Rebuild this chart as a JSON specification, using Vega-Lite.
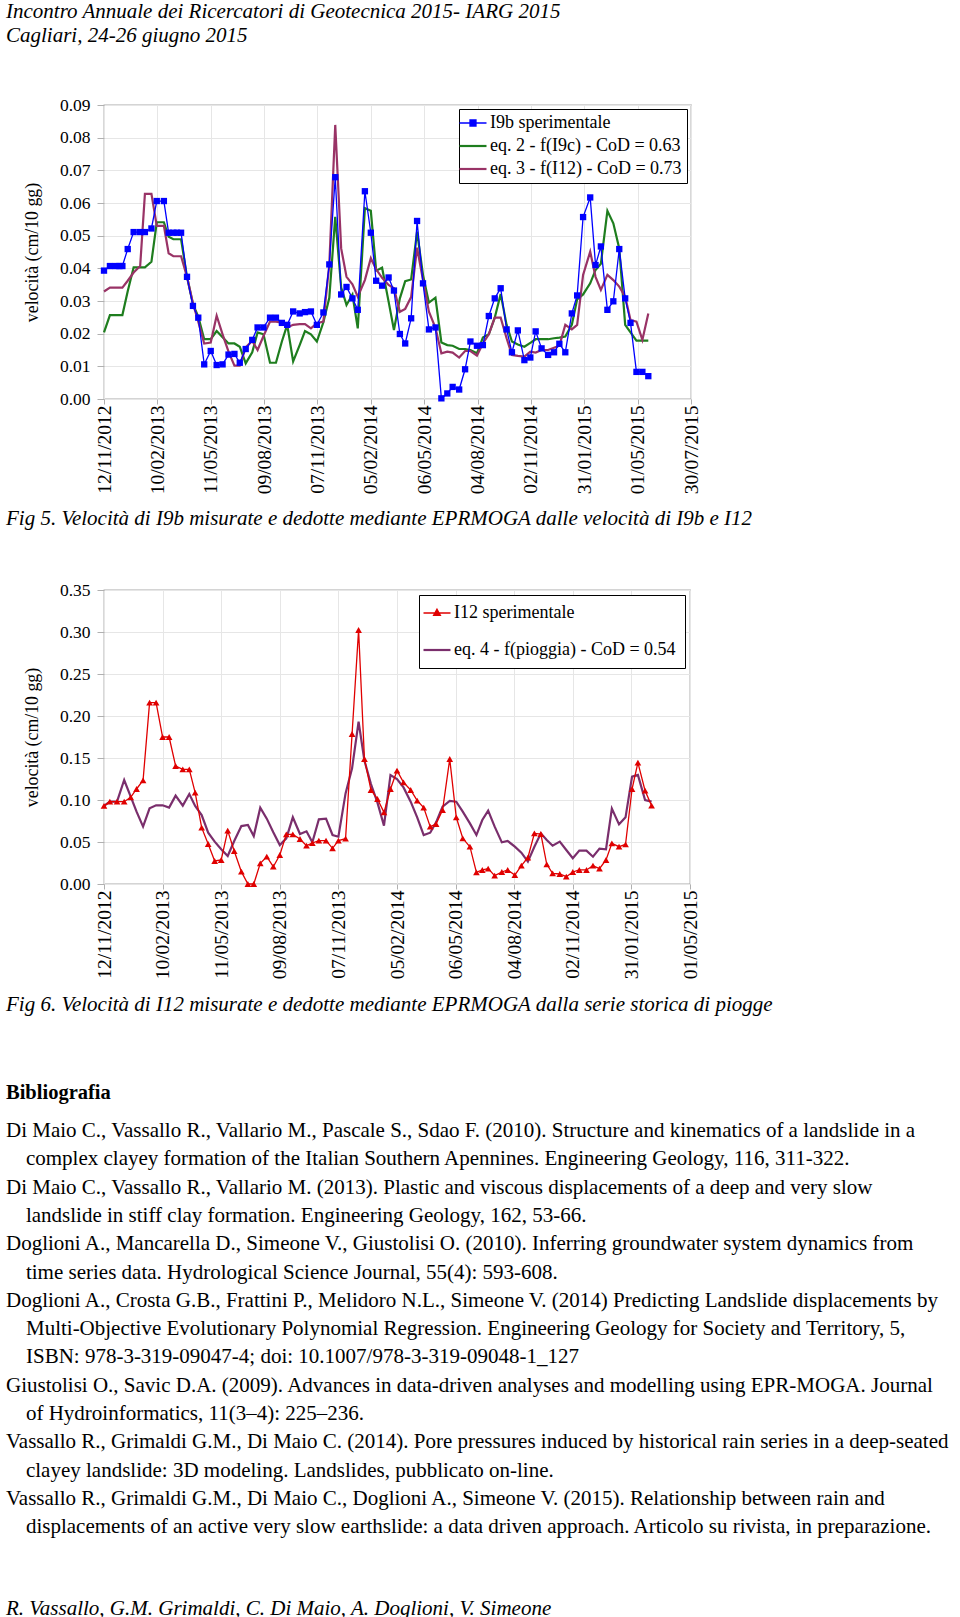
{
  "$schema": "https://vega.github.io/schema/vega-lite/v6.json",
  "padding": {"left": 5, "top": 0, "right": 0, "bottom": 0},
  "background": "white",
  "title": {
    "text": ["Incontro Annuale dei Ricercatori di Geotecnica 2015- IARG 2015", "Cagliari, 24-26 giugno 2015"],
    "anchor": "start", "frame": "group", "dx": -98, "fontSize": 21, "fontStyle": "italic", "lineHeight": 24.5, "offset": 49
  },
  "datasets": {
    "fig5": [
      {"date": "2012-11-12", "I9b": 0.0393, "eq2": 0.0204, "eq3": 0.0329},
      {"date": "2012-11-22", "I9b": 0.0407, "eq2": 0.0257, "eq3": 0.0341},
      {"date": "2012-12-02", "I9b": 0.0407, "eq2": 0.0257, "eq3": 0.0341},
      {"date": "2012-12-08", "I9b": 0.0407, "eq2": 0.0257, "eq3": 0.0341},
      {"date": "2012-12-13", "I9b": 0.0407, "eq2": 0.0257, "eq3": 0.0341},
      {"date": "2012-12-22", "I9b": 0.0459, "eq2": 0.0330, "eq3": 0.0362},
      {"date": "2013-01-01", "I9b": 0.0511, "eq2": 0.0403, "eq3": 0.0387},
      {"date": "2013-01-12", "I9b": 0.0511, "eq2": 0.0403, "eq3": 0.0407},
      {"date": "2013-01-20", "I9b": 0.0511, "eq2": 0.0403, "eq3": 0.0628},
      {"date": "2013-01-31", "I9b": 0.0522, "eq2": 0.0420, "eq3": 0.0628},
      {"date": "2013-02-09", "I9b": 0.0606, "eq2": 0.0541, "eq3": 0.0530},
      {"date": "2013-02-21", "I9b": 0.0606, "eq2": 0.0541, "eq3": 0.0530},
      {"date": "2013-03-01", "I9b": 0.0509, "eq2": 0.0497, "eq3": 0.0446},
      {"date": "2013-03-09", "I9b": 0.0509, "eq2": 0.0489, "eq3": 0.0437},
      {"date": "2013-03-15", "I9b": 0.0509, "eq2": 0.0489, "eq3": 0.0437},
      {"date": "2013-03-22", "I9b": 0.0509, "eq2": 0.0489, "eq3": 0.0437},
      {"date": "2013-04-01", "I9b": 0.0374, "eq2": 0.0374, "eq3": 0.0374},
      {"date": "2013-04-11", "I9b": 0.0285, "eq2": 0.0290, "eq3": 0.0293},
      {"date": "2013-04-20", "I9b": 0.0249, "eq2": 0.0252, "eq3": 0.0237},
      {"date": "2013-04-30", "I9b": 0.0106, "eq2": 0.0183, "eq3": 0.0170},
      {"date": "2013-05-11", "I9b": 0.0147, "eq2": 0.0183, "eq3": 0.0173},
      {"date": "2013-05-21", "I9b": 0.0104, "eq2": 0.0208, "eq3": 0.0255},
      {"date": "2013-05-31", "I9b": 0.0106, "eq2": 0.0189, "eq3": 0.0198},
      {"date": "2013-06-10", "I9b": 0.0136, "eq2": 0.0170, "eq3": 0.0145},
      {"date": "2013-06-20", "I9b": 0.0138, "eq2": 0.0170, "eq3": 0.0102},
      {"date": "2013-06-29", "I9b": 0.0111, "eq2": 0.0160, "eq3": 0.0102},
      {"date": "2013-07-09", "I9b": 0.0153, "eq2": 0.0109, "eq3": 0.0158},
      {"date": "2013-07-20", "I9b": 0.0181, "eq2": 0.0143, "eq3": 0.0178},
      {"date": "2013-07-29", "I9b": 0.0219, "eq2": 0.0204, "eq3": 0.0150},
      {"date": "2013-08-08", "I9b": 0.0219, "eq2": 0.0198, "eq3": 0.0193},
      {"date": "2013-08-19", "I9b": 0.0249, "eq2": 0.0111, "eq3": 0.0237},
      {"date": "2013-08-29", "I9b": 0.0249, "eq2": 0.0111, "eq3": 0.0237},
      {"date": "2013-09-08", "I9b": 0.0233, "eq2": 0.0176, "eq3": 0.0234},
      {"date": "2013-09-17", "I9b": 0.0227, "eq2": 0.0227, "eq3": 0.0219},
      {"date": "2013-09-27", "I9b": 0.0268, "eq2": 0.0115, "eq3": 0.0227},
      {"date": "2013-10-08", "I9b": 0.0262, "eq2": 0.0165, "eq3": 0.0229},
      {"date": "2013-10-17", "I9b": 0.0266, "eq2": 0.0208, "eq3": 0.0229},
      {"date": "2013-10-27", "I9b": 0.0268, "eq2": 0.0198, "eq3": 0.0216},
      {"date": "2013-11-06", "I9b": 0.0227, "eq2": 0.0176, "eq3": 0.0232},
      {"date": "2013-11-17", "I9b": 0.0265, "eq2": 0.0235, "eq3": 0.0237},
      {"date": "2013-11-27", "I9b": 0.0412, "eq2": 0.0310, "eq3": 0.0412},
      {"date": "2013-12-07", "I9b": 0.0679, "eq2": 0.0558, "eq3": 0.0839},
      {"date": "2013-12-17", "I9b": 0.0320, "eq2": 0.0341, "eq3": 0.0461},
      {"date": "2013-12-26", "I9b": 0.0343, "eq2": 0.0288, "eq3": 0.0374},
      {"date": "2014-01-05", "I9b": 0.0308, "eq2": 0.0320, "eq3": 0.0351},
      {"date": "2014-01-14", "I9b": 0.0273, "eq2": 0.0216, "eq3": 0.0313},
      {"date": "2014-01-26", "I9b": 0.0636, "eq2": 0.0584, "eq3": 0.0364},
      {"date": "2014-02-05", "I9b": 0.0509, "eq2": 0.0576, "eq3": 0.0431},
      {"date": "2014-02-14", "I9b": 0.0362, "eq2": 0.0393, "eq3": 0.0397},
      {"date": "2014-02-24", "I9b": 0.0347, "eq2": 0.0402, "eq3": 0.0371},
      {"date": "2014-03-07", "I9b": 0.0372, "eq2": 0.0298, "eq3": 0.0349},
      {"date": "2014-03-16", "I9b": 0.0332, "eq2": 0.0211, "eq3": 0.0339},
      {"date": "2014-03-26", "I9b": 0.0199, "eq2": 0.0308, "eq3": 0.0267},
      {"date": "2014-04-04", "I9b": 0.0170, "eq2": 0.0361, "eq3": 0.0276},
      {"date": "2014-04-14", "I9b": 0.0247, "eq2": 0.0366, "eq3": 0.0312},
      {"date": "2014-04-24", "I9b": 0.0545, "eq2": 0.0512, "eq3": 0.0463},
      {"date": "2014-05-04", "I9b": 0.0354, "eq2": 0.0380, "eq3": 0.0364},
      {"date": "2014-05-14", "I9b": 0.0213, "eq2": 0.0295, "eq3": 0.0267},
      {"date": "2014-05-25", "I9b": 0.0219, "eq2": 0.0310, "eq3": 0.0218},
      {"date": "2014-06-04", "I9b": 0.0002, "eq2": 0.0173, "eq3": 0.0140},
      {"date": "2014-06-14", "I9b": 0.0017, "eq2": 0.0165, "eq3": 0.0145},
      {"date": "2014-06-23", "I9b": 0.0037, "eq2": 0.0163, "eq3": 0.0142},
      {"date": "2014-07-04", "I9b": 0.0029, "eq2": 0.0153, "eq3": 0.0127},
      {"date": "2014-07-14", "I9b": 0.0091, "eq2": 0.0153, "eq3": 0.0147},
      {"date": "2014-07-23", "I9b": 0.0176, "eq2": 0.0150, "eq3": 0.0147},
      {"date": "2014-08-03", "I9b": 0.0163, "eq2": 0.0140, "eq3": 0.0133},
      {"date": "2014-08-13", "I9b": 0.0165, "eq2": 0.0188, "eq3": 0.0170},
      {"date": "2014-08-23", "I9b": 0.0254, "eq2": 0.0198, "eq3": 0.0198},
      {"date": "2014-09-02", "I9b": 0.0308, "eq2": 0.0249, "eq3": 0.0249},
      {"date": "2014-09-12", "I9b": 0.0339, "eq2": 0.0321, "eq3": 0.0249},
      {"date": "2014-09-22", "I9b": 0.0213, "eq2": 0.0227, "eq3": 0.0186},
      {"date": "2014-10-01", "I9b": 0.0143, "eq2": 0.0176, "eq3": 0.0135},
      {"date": "2014-10-11", "I9b": 0.0210, "eq2": 0.0167, "eq3": 0.0132},
      {"date": "2014-10-22", "I9b": 0.0119, "eq2": 0.0160, "eq3": 0.0130},
      {"date": "2014-11-01", "I9b": 0.0127, "eq2": 0.0172, "eq3": 0.0145},
      {"date": "2014-11-10", "I9b": 0.0207, "eq2": 0.0183, "eq3": 0.0142},
      {"date": "2014-11-20", "I9b": 0.0155, "eq2": 0.0183, "eq3": 0.0150},
      {"date": "2014-12-01", "I9b": 0.0135, "eq2": 0.0183, "eq3": 0.0150},
      {"date": "2014-12-11", "I9b": 0.0143, "eq2": 0.0186, "eq3": 0.0157},
      {"date": "2014-12-20", "I9b": 0.0169, "eq2": 0.0188, "eq3": 0.0163},
      {"date": "2014-12-30", "I9b": 0.0143, "eq2": 0.0191, "eq3": 0.0227},
      {"date": "2015-01-10", "I9b": 0.0262, "eq2": 0.0227, "eq3": 0.0213},
      {"date": "2015-01-19", "I9b": 0.0317, "eq2": 0.0305, "eq3": 0.0227},
      {"date": "2015-01-29", "I9b": 0.0557, "eq2": 0.0320, "eq3": 0.0380},
      {"date": "2015-02-10", "I9b": 0.0617, "eq2": 0.0354, "eq3": 0.0451},
      {"date": "2015-02-19", "I9b": 0.0410, "eq2": 0.0395, "eq3": 0.0374},
      {"date": "2015-02-28", "I9b": 0.0467, "eq2": 0.0414, "eq3": 0.0334},
      {"date": "2015-03-11", "I9b": 0.0273, "eq2": 0.0576, "eq3": 0.0380},
      {"date": "2015-03-21", "I9b": 0.0299, "eq2": 0.0538, "eq3": 0.0364},
      {"date": "2015-03-31", "I9b": 0.0459, "eq2": 0.0461, "eq3": 0.0344},
      {"date": "2015-04-10", "I9b": 0.0308, "eq2": 0.0227, "eq3": 0.0313},
      {"date": "2015-04-19", "I9b": 0.0233, "eq2": 0.0204, "eq3": 0.0242},
      {"date": "2015-04-29", "I9b": 0.0083, "eq2": 0.0179, "eq3": 0.0237},
      {"date": "2015-05-09", "I9b": 0.0083, "eq2": 0.0179, "eq3": 0.0181},
      {"date": "2015-05-19", "I9b": 0.0070, "eq2": 0.0179, "eq3": 0.0262}
    ],
    "fig6": [
      {"date": "2012-11-12", "I12": 0.0929, "eq4": 0.0929},
      {"date": "2012-11-21", "I12": 0.0980, "eq4": 0.0980},
      {"date": "2012-12-02", "I12": 0.0980, "eq4": 0.0980},
      {"date": "2012-12-13", "I12": 0.0980, "eq4": 0.1238},
      {"date": "2012-12-23", "I12": 0.1032, "eq4": 0.1040},
      {"date": "2013-01-01", "I12": 0.1131, "eq4": 0.0861},
      {"date": "2013-01-11", "I12": 0.1234, "eq4": 0.0683},
      {"date": "2013-01-21", "I12": 0.2159, "eq4": 0.0901},
      {"date": "2013-01-31", "I12": 0.2159, "eq4": 0.0937},
      {"date": "2013-02-10", "I12": 0.1750, "eq4": 0.0937},
      {"date": "2013-02-20", "I12": 0.1750, "eq4": 0.0909},
      {"date": "2013-03-02", "I12": 0.1405, "eq4": 0.1052},
      {"date": "2013-03-13", "I12": 0.1365, "eq4": 0.0933},
      {"date": "2013-03-23", "I12": 0.1365, "eq4": 0.1071},
      {"date": "2013-04-01", "I12": 0.1087, "eq4": 0.0929},
      {"date": "2013-04-11", "I12": 0.0671, "eq4": 0.0821},
      {"date": "2013-04-21", "I12": 0.0476, "eq4": 0.0611},
      {"date": "2013-05-01", "I12": 0.0274, "eq4": 0.0504},
      {"date": "2013-05-11", "I12": 0.0286, "eq4": 0.0413},
      {"date": "2013-05-21", "I12": 0.0635, "eq4": 0.0333},
      {"date": "2013-05-31", "I12": 0.0393, "eq4": 0.0512},
      {"date": "2013-06-11", "I12": 0.0147, "eq4": 0.0690},
      {"date": "2013-06-21", "I12": 0.0000, "eq4": 0.0702},
      {"date": "2013-06-30", "I12": 0.0000, "eq4": 0.0571},
      {"date": "2013-07-10", "I12": 0.0246, "eq4": 0.0909},
      {"date": "2013-07-20", "I12": 0.0325, "eq4": 0.0778},
      {"date": "2013-07-30", "I12": 0.0206, "eq4": 0.0615},
      {"date": "2013-08-09", "I12": 0.0345, "eq4": 0.0464},
      {"date": "2013-08-19", "I12": 0.0591, "eq4": 0.0544},
      {"date": "2013-08-29", "I12": 0.0591, "eq4": 0.0794},
      {"date": "2013-09-09", "I12": 0.0536, "eq4": 0.0595},
      {"date": "2013-09-19", "I12": 0.0456, "eq4": 0.0627},
      {"date": "2013-09-28", "I12": 0.0488, "eq4": 0.0496},
      {"date": "2013-10-08", "I12": 0.0516, "eq4": 0.0770},
      {"date": "2013-10-19", "I12": 0.0516, "eq4": 0.0778},
      {"date": "2013-10-29", "I12": 0.0425, "eq4": 0.0583},
      {"date": "2013-11-07", "I12": 0.0516, "eq4": 0.0563},
      {"date": "2013-11-18", "I12": 0.0540, "eq4": 0.1079},
      {"date": "2013-11-28", "I12": 0.1786, "eq4": 0.1377},
      {"date": "2013-12-08", "I12": 0.3024, "eq4": 0.1933},
      {"date": "2013-12-17", "I12": 0.1488, "eq4": 0.1468},
      {"date": "2013-12-27", "I12": 0.1119, "eq4": 0.1190},
      {"date": "2014-01-06", "I12": 0.1012, "eq4": 0.0968},
      {"date": "2014-01-16", "I12": 0.0853, "eq4": 0.0694},
      {"date": "2014-01-26", "I12": 0.1131, "eq4": 0.1298},
      {"date": "2014-02-05", "I12": 0.1349, "eq4": 0.1250},
      {"date": "2014-02-15", "I12": 0.1210, "eq4": 0.1150},
      {"date": "2014-02-26", "I12": 0.1119, "eq4": 0.0980},
      {"date": "2014-03-08", "I12": 0.0992, "eq4": 0.0794},
      {"date": "2014-03-18", "I12": 0.0909, "eq4": 0.0583},
      {"date": "2014-03-28", "I12": 0.0683, "eq4": 0.0611},
      {"date": "2014-04-06", "I12": 0.0714, "eq4": 0.0734},
      {"date": "2014-04-16", "I12": 0.0881, "eq4": 0.0921},
      {"date": "2014-04-27", "I12": 0.1488, "eq4": 0.0988},
      {"date": "2014-05-07", "I12": 0.0794, "eq4": 0.0980},
      {"date": "2014-05-17", "I12": 0.0544, "eq4": 0.0861},
      {"date": "2014-05-28", "I12": 0.0444, "eq4": 0.0722},
      {"date": "2014-06-07", "I12": 0.0139, "eq4": 0.0583},
      {"date": "2014-06-16", "I12": 0.0167, "eq4": 0.0762},
      {"date": "2014-06-25", "I12": 0.0183, "eq4": 0.0873},
      {"date": "2014-07-05", "I12": 0.0099, "eq4": 0.0683},
      {"date": "2014-07-16", "I12": 0.0143, "eq4": 0.0496},
      {"date": "2014-07-25", "I12": 0.0167, "eq4": 0.0512},
      {"date": "2014-08-05", "I12": 0.0107, "eq4": 0.0444},
      {"date": "2014-08-15", "I12": 0.0218, "eq4": 0.0373},
      {"date": "2014-08-25", "I12": 0.0313, "eq4": 0.0266},
      {"date": "2014-09-04", "I12": 0.0603, "eq4": 0.0444},
      {"date": "2014-09-14", "I12": 0.0595, "eq4": 0.0603},
      {"date": "2014-09-23", "I12": 0.0234, "eq4": 0.0524},
      {"date": "2014-10-02", "I12": 0.0127, "eq4": 0.0456},
      {"date": "2014-10-13", "I12": 0.0119, "eq4": 0.0504},
      {"date": "2014-10-23", "I12": 0.0087, "eq4": 0.0405},
      {"date": "2014-11-02", "I12": 0.0143, "eq4": 0.0306},
      {"date": "2014-11-12", "I12": 0.0167, "eq4": 0.0397},
      {"date": "2014-11-23", "I12": 0.0167, "eq4": 0.0397},
      {"date": "2014-12-03", "I12": 0.0218, "eq4": 0.0325},
      {"date": "2014-12-13", "I12": 0.0183, "eq4": 0.0421},
      {"date": "2014-12-23", "I12": 0.0286, "eq4": 0.0413},
      {"date": "2015-01-01", "I12": 0.0484, "eq4": 0.0897},
      {"date": "2015-01-12", "I12": 0.0444, "eq4": 0.0710},
      {"date": "2015-01-22", "I12": 0.0472, "eq4": 0.0794},
      {"date": "2015-02-01", "I12": 0.1131, "eq4": 0.1278},
      {"date": "2015-02-10", "I12": 0.1444, "eq4": 0.1298},
      {"date": "2015-02-21", "I12": 0.1111, "eq4": 0.1000},
      {"date": "2015-03-03", "I12": 0.0933, "eq4": 0.0980}
    ]
  },
  "spacing": 50,
  "resolve": {"scale": {"color": "independent"}, "legend": {"color": "independent"}},
  "vconcat": [
    {
      "width": 587,
      "height": 294,
      "data": {"name": "fig5"},
      "transform": [{"fold": ["I9b", "eq2", "eq3"], "as": ["serie", "v"]}],
      "title": {
        "text": "Fig 5. Velocità di I9b misurate e dedotte mediante EPRMOGA dalle velocità di I9b e I12",
        "orient": "bottom", "anchor": "start", "frame": "group", "dx": -98, "fontSize": 21, "fontStyle": "italic", "offset": 14
      },
      "encoding": {
        "x": {
          "field": "date", "type": "temporal",
          "scale": {"type": "utc", "nice": false, "domain": [{"year": 2012, "month": 11, "date": 12, "utc": true}, {"year": 2015, "month": 7, "date": 30, "utc": true}]},
          "axis": {
            "title": null, "labelAngle": -90, "labelFontSize": 19.5, "tickSize": 5, "labelPadding": 1, "labelOverlap": false, "labelFlush": false, "labelBound": false,
            "labelExpr": "utcFormat(datum.value, '%d/%m/%Y')",
            "values": [
              {"year": 2012, "month": 11, "date": 12, "utc": true},
              {"year": 2013, "month": 2, "date": 10, "utc": true},
              {"year": 2013, "month": 5, "date": 11, "utc": true},
              {"year": 2013, "month": 8, "date": 9, "utc": true},
              {"year": 2013, "month": 11, "date": 7, "utc": true},
              {"year": 2014, "month": 2, "date": 5, "utc": true},
              {"year": 2014, "month": 5, "date": 6, "utc": true},
              {"year": 2014, "month": 8, "date": 4, "utc": true},
              {"year": 2014, "month": 11, "date": 2, "utc": true},
              {"year": 2015, "month": 1, "date": 31, "utc": true},
              {"year": 2015, "month": 5, "date": 1, "utc": true},
              {"year": 2015, "month": 7, "date": 30, "utc": true}
            ]
          }
        },
        "y": {
          "field": "v", "type": "quantitative",
          "scale": {"domain": [0, 0.09], "nice": false},
          "axis": {"title": "velocità (cm/10 gg)", "format": ".2f", "values": [0, 0.01, 0.02, 0.03, 0.04, 0.05, 0.06, 0.07, 0.08, 0.09], "tickSize": 7, "labelPadding": 7, "titlePadding": 18}
        },
        "color": {
          "field": "serie", "type": "nominal",
          "scale": {"domain": ["I9b", "eq2", "eq3"], "range": ["#0000ff", "#1e7d1e", "#993366"]},
          "legend": {
            "title": null, "orient": "top-right", "offset": 4, "padding": 5, "strokeColor": "#000000", "fillColor": "#ffffff", "cornerRadius": 0,
            "symbolSize": 400, "symbolOpacity": 1, "labelOffset": 8, "rowPadding": 5,
            "symbolType": {"expr": "datum.value === 'I9b' ? 'M-1.35,0H1.35M-0.3,-0.3H0.3V0.3H-0.3Z' : 'M-1.35,0H1.35'"},
            "symbolFillColor": {"expr": "datum.value === 'I9b' ? '#0000ff' : 'transparent'"},
            "symbolStrokeColor": {"expr": "datum.value === 'I9b' ? '#0000ff' : datum.value === 'eq2' ? '#1e7d1e' : '#993366'"},
            "symbolStrokeWidth": {"expr": "datum.value === 'I9b' ? 1.3 : 2.2"},
            "labelExpr": "{'I9b': 'I9b sperimentale', 'eq2': 'eq. 2 - f(I9c) - CoD = 0.63', 'eq3': 'eq. 3 - f(I12) - CoD = 0.73'}[datum.label]"
          }
        }
      },
      "layer": [
        {"transform": [{"filter": "datum.serie !== 'I9b'"}], "mark": {"type": "line", "strokeWidth": 2.2}},
        {"transform": [{"filter": "datum.serie === 'I9b'"}], "mark": {"type": "line", "strokeWidth": 1.3}},
        {"transform": [{"filter": "datum.serie === 'I9b'"}], "mark": {"type": "point", "shape": "square", "filled": true, "size": 40, "opacity": 1}}
      ]
    },
    {
      "width": 586,
      "height": 294,
      "data": {"name": "fig6"},
      "transform": [{"fold": ["eq4", "I12"], "as": ["serie", "v"]}],
      "title": {
        "text": "Fig 6. Velocità di I12 misurate e dedotte mediante EPRMOGA dalla serie storica di piogge",
        "orient": "bottom", "anchor": "start", "frame": "group", "dx": -98, "fontSize": 21, "fontStyle": "italic", "offset": 15
      },
      "encoding": {
        "x": {
          "field": "date", "type": "temporal",
          "scale": {"type": "utc", "nice": false, "domain": [{"year": 2012, "month": 11, "date": 12, "utc": true}, {"year": 2015, "month": 5, "date": 1, "utc": true}]},
          "axis": {
            "title": null, "labelAngle": -90, "labelFontSize": 19.5, "tickSize": 5, "labelPadding": 1, "labelOverlap": false, "labelFlush": false, "labelBound": false,
            "labelExpr": "utcFormat(datum.value, '%d/%m/%Y')",
            "values": [
              {"year": 2012, "month": 11, "date": 12, "utc": true},
              {"year": 2013, "month": 2, "date": 10, "utc": true},
              {"year": 2013, "month": 5, "date": 11, "utc": true},
              {"year": 2013, "month": 8, "date": 9, "utc": true},
              {"year": 2013, "month": 11, "date": 7, "utc": true},
              {"year": 2014, "month": 2, "date": 5, "utc": true},
              {"year": 2014, "month": 5, "date": 6, "utc": true},
              {"year": 2014, "month": 8, "date": 4, "utc": true},
              {"year": 2014, "month": 11, "date": 2, "utc": true},
              {"year": 2015, "month": 1, "date": 31, "utc": true},
              {"year": 2015, "month": 5, "date": 1, "utc": true}
            ]
          }
        },
        "y": {
          "field": "v", "type": "quantitative",
          "scale": {"domain": [0, 0.35], "nice": false},
          "axis": {"title": "velocità (cm/10 gg)", "format": ".2f", "values": [0, 0.05, 0.1, 0.15, 0.2, 0.25, 0.3, 0.35], "tickSize": 7, "labelPadding": 7, "titlePadding": 18}
        },
        "color": {
          "field": "serie", "type": "nominal",
          "scale": {"domain": ["I12", "eq4"], "range": ["#e00000", "#7a2e6c"]},
          "legend": {
            "title": null, "orient": "top-right", "offset": 5, "padding": 9, "strokeColor": "#000000", "fillColor": "#ffffff", "cornerRadius": 0,
            "symbolSize": 400, "symbolOpacity": 1, "labelOffset": 8, "rowPadding": 19,
            "symbolType": {"expr": "datum.value === 'I12' ? 'M-1.35,0H1.35M0,-0.38L0.34,0.24H-0.34Z' : 'M-1.35,0H1.35'"},
            "symbolFillColor": {"expr": "datum.value === 'I12' ? '#e00000' : 'transparent'"},
            "symbolStrokeColor": {"expr": "datum.value === 'I12' ? '#e00000' : '#7a2e6c'"},
            "symbolStrokeWidth": {"expr": "datum.value === 'I12' ? 1.3 : 2.2"},
            "labelExpr": "{'I12': 'I12 sperimentale', 'eq4': 'eq. 4 - f(pioggia) - CoD = 0.54'}[datum.label]"
          }
        }
      },
      "layer": [
        {"transform": [{"filter": "datum.serie === 'eq4'"}], "mark": {"type": "line", "strokeWidth": 2.2}},
        {"transform": [{"filter": "datum.serie === 'I12'"}], "mark": {"type": "line", "strokeWidth": 1.3}},
        {"transform": [{"filter": "datum.serie === 'I12'"}], "mark": {"type": "point", "shape": "triangle-up", "filled": true, "size": 45, "opacity": 1}}
      ]
    },
    {
      "width": 10,
      "height": 1,
      "view": {"stroke": null},
      "data": {"values": [{"t": ""}]},
      "mark": {"type": "text"},
      "encoding": {"text": {"field": "t", "type": "nominal"}},
      "title": {
        "text": "Bibliografia",
        "subtitle": [
          "Di Maio C., Vassallo R., Vallario M., Pascale S., Sdao F. (2010). Structure and kinematics of a landslide in a",
          "\u200b\u00a0\u00a0\u00a0\u2009complex clayey formation of the Italian Southern Apennines. Engineering Geology, 116, 311-322.",
          "Di Maio C., Vassallo R., Vallario M. (2013). Plastic and viscous displacements of a deep and very slow",
          "\u200b\u00a0\u00a0\u00a0\u2009landslide in stiff clay formation. Engineering Geology, 162, 53-66.",
          "Doglioni A., Mancarella D., Simeone V., Giustolisi O. (2010). Inferring groundwater system dynamics from",
          "\u200b\u00a0\u00a0\u00a0\u2009time series data. Hydrological Science Journal, 55(4): 593-608.",
          "Doglioni A., Crosta G.B., Frattini P., Melidoro N.L., Simeone V. (2014) Predicting Landslide displacements by",
          "\u200b\u00a0\u00a0\u00a0\u2009Multi-Objective Evolutionary Polynomial Regression. Engineering Geology for Society and Territory, 5,",
          "\u200b\u00a0\u00a0\u00a0\u2009ISBN: 978-3-319-09047-4; doi: 10.1007/978-3-319-09048-1_127",
          "Giustolisi O., Savic D.A. (2009). Advances in data-driven analyses and modelling using EPR-MOGA. Journal",
          "\u200b\u00a0\u00a0\u00a0\u2009of Hydroinformatics, 11(3–4): 225–236.",
          "Vassallo R., Grimaldi G.M., Di Maio C. (2014). Pore pressures induced by historical rain series in a deep-seated",
          "\u200b\u00a0\u00a0\u00a0\u2009clayey landslide: 3D modeling. Landslides, pubblicato on-line.",
          "Vassallo R., Grimaldi G.M., Di Maio C., Doglioni A., Simeone V. (2015). Relationship between rain and",
          "\u200b\u00a0\u00a0\u00a0\u2009displacements of an active very slow earthslide: a data driven approach. Articolo su rivista, in preparazione."
        ],
        "orient": "bottom", "anchor": "start", "frame": "group", "dx": -98, "fontSize": 20.5, "fontWeight": "bold",
        "subtitleFontSize": 21, "subtitleLineHeight": 28.3, "subtitlePadding": 17, "offset": 5
      }
    },
    {
      "width": 10,
      "height": 1,
      "view": {"stroke": null},
      "data": {"values": [{"t": ""}]},
      "mark": {"type": "text"},
      "encoding": {"text": {"field": "t", "type": "nominal"}},
      "title": {
        "text": "R. Vassallo, G.M. Grimaldi, C. Di Maio, A. Doglioni, V. Simeone",
        "orient": "bottom", "anchor": "start", "frame": "group", "dx": -98, "fontSize": 21, "fontStyle": "italic", "offset": -2
      }
    }
  ],
  "config": {
    "font": "Liberation Serif",
    "view": {"stroke": "#a9a9a9", "strokeWidth": 1.3},
    "axis": {
      "labelFont": "Liberation Serif", "labelFontSize": 17.5, "labelColor": "#000000",
      "titleFont": "Liberation Serif", "titleFontSize": 17.8, "titleFontWeight": "normal", "titleColor": "#000000",
      "gridColor": "#e6e6e6", "gridWidth": 1, "tickColor": "#b0b0b0", "domain": false
    },
    "legend": {"labelFont": "Liberation Serif", "labelFontSize": 18, "labelColor": "#000000", "labelLimit": 400},
    "title": {"font": "Liberation Serif", "color": "#000000", "fontWeight": "normal", "subtitleFont": "Liberation Serif", "subtitleColor": "#000000"}
  }
}
